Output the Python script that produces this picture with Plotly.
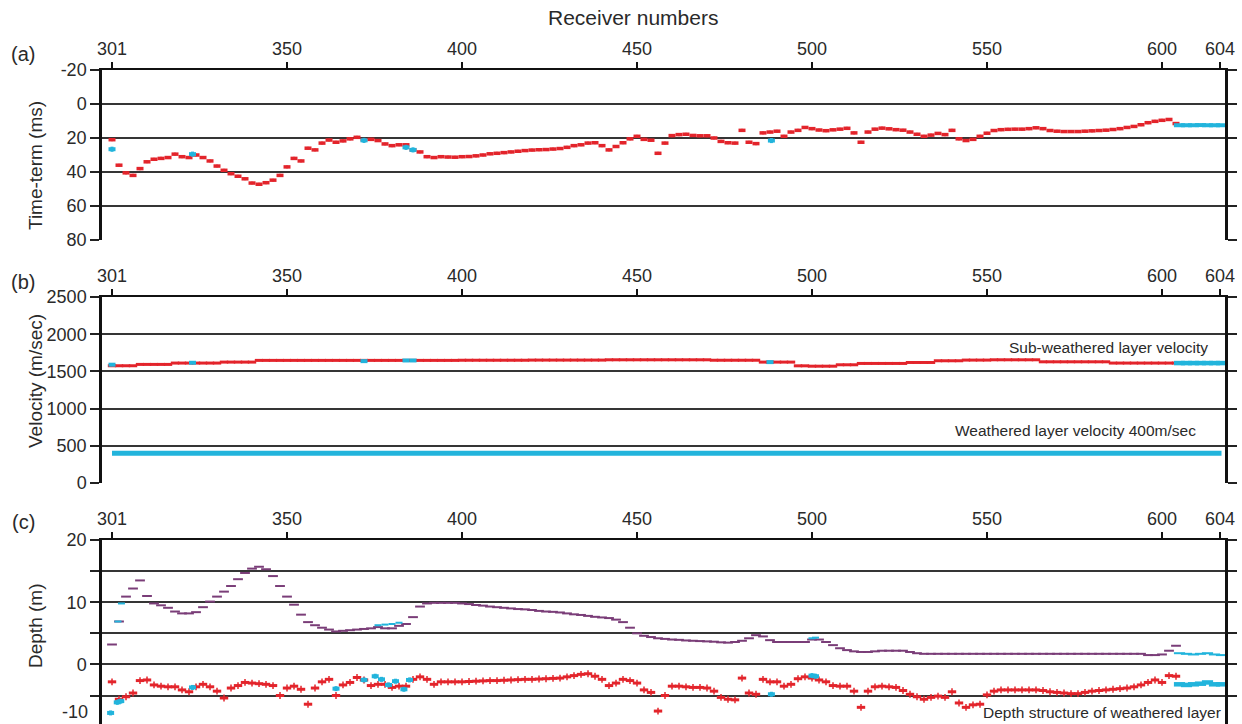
import plotly.graph_objects as go

# ---------------- data ----------------
# trace positions (plot coordinate); axis labels map 300 -> "301", 616.6 -> "604"
TICK_POS = [300, 350, 400, 450, 500, 550, 600, 616.6]
TICK_TXT = ["301", "350", "400", "450", "500", "550", "600", "604"]

POS_MAIN = list(range(300, 605, 2))          # 153 positions (red series)
POS_TAIL = [605, 607, 609, 611, 613, 615, 617]  # cyan tail positions

# (a) time-term (ms)
TIME_TERM = [
    21, 36, 40.5, 42, 38, 34, 32.5, 32, 31.5, 29.5,
    31, 31.5, 30, 31.5, 33.5, 36.5, 39, 41, 42.5, 44,
    46.5, 47.2, 46.3, 44.8, 42, 37, 32, 33.5, 26, 27,
    23, 21.2, 22.5, 21.7, 20.5, 19.6, 21, 20.8, 21.5, 23.5,
    24.5, 24, 24, 27, 28.2, 31, 31.5, 31, 31.2, 31.3,
    31, 30.9, 30.5, 30, 29.3, 29, 28.6, 28.2, 27.8, 27.4,
    27.1, 26.9, 26.8, 26.5, 26.2, 25.5, 24.5, 24, 23, 22.8,
    24.5, 27, 25, 22.8, 20.5, 19, 20.8, 21.3, 29, 23,
    18.6, 18, 17.8, 18.5, 18.7, 18.7, 20, 22, 22.8, 23,
    15.5, 22.5, 23.3, 17, 16.5, 16, 19, 16.5, 15.5, 13.8,
    14.5, 15.3, 15.7, 15.2, 14.8, 14.3, 17, 22.5, 16.5, 14.8,
    14.2, 14.6, 15.1, 15.4, 16.5, 17.8, 19, 18.3, 17.3, 18,
    15.5, 20.5, 21.5, 20.8, 19, 17.2, 15.6, 15.1, 14.9, 14.8,
    14.8, 14.5, 14, 14.5, 15.6, 16, 16.2, 16.2, 16.2, 16,
    15.8, 15.6, 15.4, 15, 14.5, 13.8, 13.2, 12.2, 11, 10.2,
    9.6, 9.1, 11.5,
]
TIME_TAIL = [12.5, 12.5, 12.5, 12.4, 12.5, 12.5, 12.5]
TIME_CYAN_X = [300, 323, 372, 384, 386, 488.4]
TIME_CYAN_Y = [26.6, 29.5, 21.4, 25.5, 27, 21.5]

# (b) velocities (m/sec)
SUB_VEL = [
    1576, 1576, 1576, 1576, 1594, 1594, 1594, 1594, 1594, 1612,
    1612, 1612, 1612, 1612, 1612, 1612, 1625, 1625, 1625, 1625,
    1625, 1648, 1648, 1648, 1648, 1648, 1648, 1648, 1648, 1648,
    1648, 1648, 1648, 1648, 1648, 1648, 1648, 1648, 1648, 1648,
    1648, 1648, 1648, 1648, 1648, 1648, 1648, 1648, 1648, 1648,
    1650, 1650, 1650, 1650, 1650, 1650, 1650, 1650, 1650, 1650,
    1652, 1652, 1652, 1652, 1652, 1652, 1652, 1652, 1652, 1652,
    1652, 1656, 1656, 1656, 1656, 1656, 1656, 1656, 1656, 1656,
    1656, 1656, 1656, 1656, 1656, 1656, 1650, 1650, 1650, 1650,
    1650, 1650, 1650, 1625, 1625, 1625, 1625, 1625, 1575, 1575,
    1570, 1570, 1570, 1570, 1589, 1589, 1589, 1607, 1607, 1607,
    1607, 1607, 1607, 1607, 1620, 1620, 1620, 1620, 1643, 1643,
    1643, 1643, 1652, 1652, 1652, 1652, 1656, 1656, 1656, 1656,
    1656, 1656, 1656, 1629, 1629, 1629, 1629, 1629, 1629, 1629,
    1629, 1629, 1629, 1612, 1612, 1612, 1612, 1612, 1612, 1612,
    1612, 1612, 1612,
]
SUB_TAIL = [1612, 1612, 1612, 1612, 1612, 1612, 1612]
SUB_CYAN_X = [300, 323, 372, 384, 386, 488]
SUB_CYAN_Y = [1590, 1616, 1638, 1647, 1647, 1625]
WEATHERED_VEL = 400
WEATHERED_X = [300, 617]

# (c) depth (m)
SURFACE = [
    3.2, 6.9, 10.9, 12.2, 13.5, 11, 9.8, 9.5, 9.1, 8.5,
    8.2, 8.2, 8.4, 9.2, 10.1, 10.9, 11.7, 12.6, 13.7, 14.7,
    15.4, 15.7, 15.3, 14.2, 12.6, 10.9, 9.6, 8, 6.8, 6.3,
    5.9, 5.6, 5.3, 5.4, 5.5, 5.6, 5.7, 5.8, 6, 5.8,
    5.8, 6.2, 6.5, 7.6, 9.3, 9.8, 9.9, 9.9, 9.9, 9.9,
    9.8, 9.7, 9.55, 9.45, 9.3, 9.2, 9.1, 9.0, 8.9, 8.85,
    8.75, 8.6, 8.5, 8.45, 8.35, 8.2, 8.05, 7.95, 7.8, 7.65,
    7.55, 7.45, 7.2, 6.8, 5.9, 5.0, 4.6, 4.4, 4.2, 4.1,
    4.0, 3.95, 3.85, 3.8, 3.75, 3.7, 3.65, 3.55, 3.5, 3.6,
    3.8, 4.2, 4.7, 4.5, 3.9, 3.6, 3.6, 3.6, 3.6, 3.6,
    4.0, 4.0, 3.6, 3.1, 2.6, 2.3, 2.1, 2.0, 2.0, 2.1,
    2.2, 2.2, 2.2, 2.2, 2.0, 1.8, 1.7, 1.7, 1.7, 1.7,
    1.7, 1.7, 1.7, 1.7, 1.7, 1.7, 1.7, 1.7, 1.7, 1.7,
    1.7, 1.7, 1.7, 1.7, 1.7, 1.7, 1.7, 1.7, 1.7, 1.7,
    1.7, 1.7, 1.7, 1.7, 1.7, 1.7, 1.7, 1.7, 1.5, 1.5,
    1.6, 2.2, 3.0,
]
SURFACE_TAIL = [1.8, 1.7, 1.6, 1.7, 1.8, 1.6, 1.5]
SURFACE_CYAN_X = [301.7, 302.7, 376, 378, 380, 382, 500, 501]
SURFACE_CYAN_Y = [6.9, 9.8, 6.3, 6.4, 6.5, 6.7, 4.2, 4.3]

BASE = [
    -2.8, -5.6, -5.2, -4.6, -2.6, -2.5, -3.3, -3.5, -3.6, -3.6,
    -4.1, -4.4, -3.6, -3.2, -3.6, -4.3, -5.4, -3.8, -3.4, -2.9,
    -3.0, -3.1, -3.2, -3.4, -5.0, -3.8, -3.5, -4.0, -6.4, -3.8,
    -2.8, -2.4, -5.0, -3.3, -2.9, -2.1, -2.5, -3.4, -3.2, -3.2,
    -3.7, -3.5, -3.5, -2.4, -2.0, -2.4, -3.2, -2.8, -2.8, -2.8,
    -2.8, -2.75, -2.7, -2.65, -2.6, -2.6, -2.55, -2.5, -2.45, -2.4,
    -2.4, -2.35, -2.3, -2.25, -2.2, -2.0, -1.8, -1.6, -1.5, -1.9,
    -2.4, -3.4, -3.0, -2.4, -2.6, -3.0, -4.1, -4.5, -7.5, -5.0,
    -3.5, -3.5, -3.6, -3.7, -3.7, -3.8, -4.3, -5.3, -5.6, -5.7,
    -2.2, -4.6, -4.8, -2.4, -2.8, -2.8, -3.5, -3.2, -2.3, -2.0,
    -2.2, -2.5, -2.8, -3.4, -3.5, -3.5, -4.3, -6.9, -4.3, -3.6,
    -3.5, -3.6, -3.7, -4.2, -4.8, -5.2, -5.6, -5.3, -5.1, -5.3,
    -4.4, -6.2, -6.9, -6.5, -6.4, -4.9, -4.3, -4.1, -4.1, -4.1,
    -4.1, -4.1, -4.1, -4.2, -4.4, -4.5, -4.6, -4.7, -4.7, -4.5,
    -4.3, -4.2, -4.1, -4.0, -3.9, -3.8, -3.6, -3.3, -2.9, -2.5,
    -2.9, -1.8, -1.9,
]
BASE_TAIL = [-3.2, -3.3, -3.2, -3.1, -2.9, -3.2, -3.2]
BASE_CYAN_X = [299.6, 301.5, 302.5, 323, 364, 372, 375.2, 377, 379, 381, 383.4, 385, 488.4, 500, 501]
BASE_CYAN_Y = [-7.8, -6.1, -5.9, -3.7, -3.9, -2.5, -1.9, -2.4, -3.3, -2.7, -4.0, -2.5, -4.8, -1.8, -1.9]

# ---------------- style ----------------
W, H = 1242, 724
RED = "#e3242b"
CYAN = "#22b4dc"
PURPLE = "#7a3d78"
GRID = "#353535"
TXT = "#2a2a2a"
FONT = "Liberation Sans, Arial, sans-serif"


def px(x):
    return x / W


def py(y):
    return 1 - y / H


XDOM = [px(102), px(1225)]
XRANGE = [297.14, 618.0]

fig = go.Figure()


def dash_marker(color, size=6, width=3):
    return dict(symbol="line-ew", size=size, line=dict(color=color, width=width), color=color)


# panel (a)
fig.add_trace(go.Scatter(x=POS_MAIN, y=TIME_TERM, mode="markers", xaxis="x", yaxis="y",
                         marker=dash_marker(RED, 5, 3.5),
                         error_y=dict(type="constant", value=0.9, thickness=1.2, width=0, color=RED)))
fig.add_trace(go.Scatter(x=POS_TAIL, y=TIME_TAIL, mode="markers", xaxis="x", yaxis="y",
                         marker=dash_marker(CYAN, 8, 4)))
fig.add_trace(go.Scatter(x=TIME_CYAN_X, y=TIME_CYAN_Y, mode="markers", xaxis="x", yaxis="y",
                         marker=dash_marker(CYAN, 5, 4),
                         error_y=dict(type="constant", value=1.5, thickness=3, width=0, color=CYAN)))

# panel (b)
fig.add_trace(go.Scatter(x=WEATHERED_X, y=[WEATHERED_VEL, WEATHERED_VEL], mode="lines",
                         xaxis="x2", yaxis="y2", line=dict(color=CYAN, width=5)))
fig.add_trace(go.Scatter(x=POS_MAIN, y=SUB_VEL, mode="markers", xaxis="x2", yaxis="y2",
                         marker=dash_marker(RED, 6, 3)))
fig.add_trace(go.Scatter(x=POS_TAIL, y=SUB_TAIL, mode="markers", xaxis="x2", yaxis="y2",
                         marker=dash_marker(CYAN, 8, 4.5)))
fig.add_trace(go.Scatter(x=SUB_CYAN_X, y=SUB_CYAN_Y, mode="markers", xaxis="x2", yaxis="y2",
                         marker=dash_marker(CYAN, 5, 4)))

# panel (c)
fig.add_trace(go.Scatter(x=POS_MAIN, y=SURFACE, mode="markers", xaxis="x3", yaxis="y3",
                         marker=dash_marker(PURPLE, 7, 2)))
fig.add_trace(go.Scatter(x=POS_TAIL, y=SURFACE_TAIL, mode="markers", xaxis="x3", yaxis="y3",
                         marker=dash_marker(CYAN, 8, 2)))
fig.add_trace(go.Scatter(x=SURFACE_CYAN_X, y=SURFACE_CYAN_Y, mode="markers", xaxis="x3", yaxis="y3",
                         marker=dash_marker(CYAN, 5, 2)))
fig.add_trace(go.Scatter(x=POS_MAIN, y=BASE, mode="markers", xaxis="x3", yaxis="y3",
                         marker=dash_marker(RED, 6, 3),
                         error_y=dict(type="constant", value=0.55, thickness=1.5, width=0, color=RED)))
fig.add_trace(go.Scatter(x=POS_TAIL, y=BASE_TAIL, mode="markers", xaxis="x3", yaxis="y3",
                         marker=dash_marker(CYAN, 8, 4.5)))
fig.add_trace(go.Scatter(x=BASE_CYAN_X, y=BASE_CYAN_Y, mode="markers", xaxis="x3", yaxis="y3",
                         marker=dash_marker(CYAN, 5, 4),
                         error_y=dict(type="constant", value=0.4, thickness=3, width=0, color=CYAN)))


def xaxis(anchor):
    return dict(domain=XDOM, range=XRANGE, anchor=anchor, side="top", automargin=False,
                tickmode="array", tickvals=TICK_POS, ticktext=TICK_TXT,
                ticks="outside", ticklen=6, tickwidth=2, tickcolor="#111",
                showline=True, linecolor="#111", linewidth=2, mirror=False,
                showgrid=False, zeroline=False,
                tickfont=dict(family=FONT, size=18, color=TXT))


def yaxis(anchor, domain, rng, vals, txt):
    return dict(domain=domain, range=rng, anchor=anchor, automargin=False,
                tickmode="array", tickvals=vals, ticktext=txt,
                ticks="outside", ticklen=9, tickwidth=2, tickcolor="#222",
                showline=True, linecolor="#111", linewidth=2.5, mirror="ticks",
                showgrid=True, gridcolor=GRID, gridwidth=2, zeroline=False,
                tickfont=dict(family=FONT, size=18, color=TXT))


fig.update_layout(
    width=W, height=H, margin=dict(l=0, r=0, t=0, b=0, autoexpand=False),
    paper_bgcolor="white", plot_bgcolor="white", showlegend=False,
    xaxis=xaxis("y"),
    xaxis2=xaxis("y2"),
    xaxis3=xaxis("y3"),
    yaxis=yaxis("x", [py(240), py(70)], [80, -20], [-20, 0, 20, 40, 60, 80],
                ["-20", "0", "20", "40", "60", "80"]),
    yaxis2=yaxis("x2", [py(483), py(297)], [0, 2500], [0, 500, 1000, 1500, 2000, 2500],
                 ["0", "500", "1000", "1500", "2000", "2500"]),
    yaxis3=yaxis("x3", [0, py(540)], [-9.58, 20], [-5, 0, 5, 10, 15, 20],
                 ["", "0", "", "10", "", "20"]),
)

ann = [
    dict(text="Receiver numbers", x=px(633), y=py(18), size=21),
    dict(text="(a)", x=px(23), y=py(54), size=20),
    dict(text="(b)", x=px(23), y=py(282), size=20),
    dict(text="(c)", x=px(23), y=py(522), size=20),
]
for a in ann:
    fig.add_annotation(text=a["text"], x=a["x"], y=a["y"], xref="paper", yref="paper",
                       xanchor="center", yanchor="middle", showarrow=False,
                       font=dict(family=FONT, size=a["size"], color=TXT))

for text, cy in [("Time-term (ms)", 166), ("Velocity (m/sec)", 381), ("Depth (m)", 626)]:
    fig.add_annotation(text=text, x=px(35), y=py(cy), xref="paper", yref="paper",
                       xanchor="center", yanchor="middle", textangle=-90, showarrow=False,
                       font=dict(family=FONT, size=19, color=TXT))

fig.add_annotation(text="-10", x=px(89), y=py(723), xref="paper", yref="paper",
                   xanchor="right", yanchor="bottom", showarrow=False,
                   font=dict(family=FONT, size=18, color=TXT), borderpad=0)

for text, rx, cy, sz in [("Sub-weathered layer velocity", 1210, 347, 15.5),
                         ("Weathered layer velocity 400m/sec", 1198, 430, 15.5),
                         ("Depth structure of weathered layer", 1223, 712, 15.5)]:
    fig.add_annotation(text=text, x=px(rx), y=py(cy), xref="paper", yref="paper",
                       xanchor="right", yanchor="middle", showarrow=False,
                       font=dict(family=FONT, size=sz, color=TXT))

fig.write_html("out.html")
